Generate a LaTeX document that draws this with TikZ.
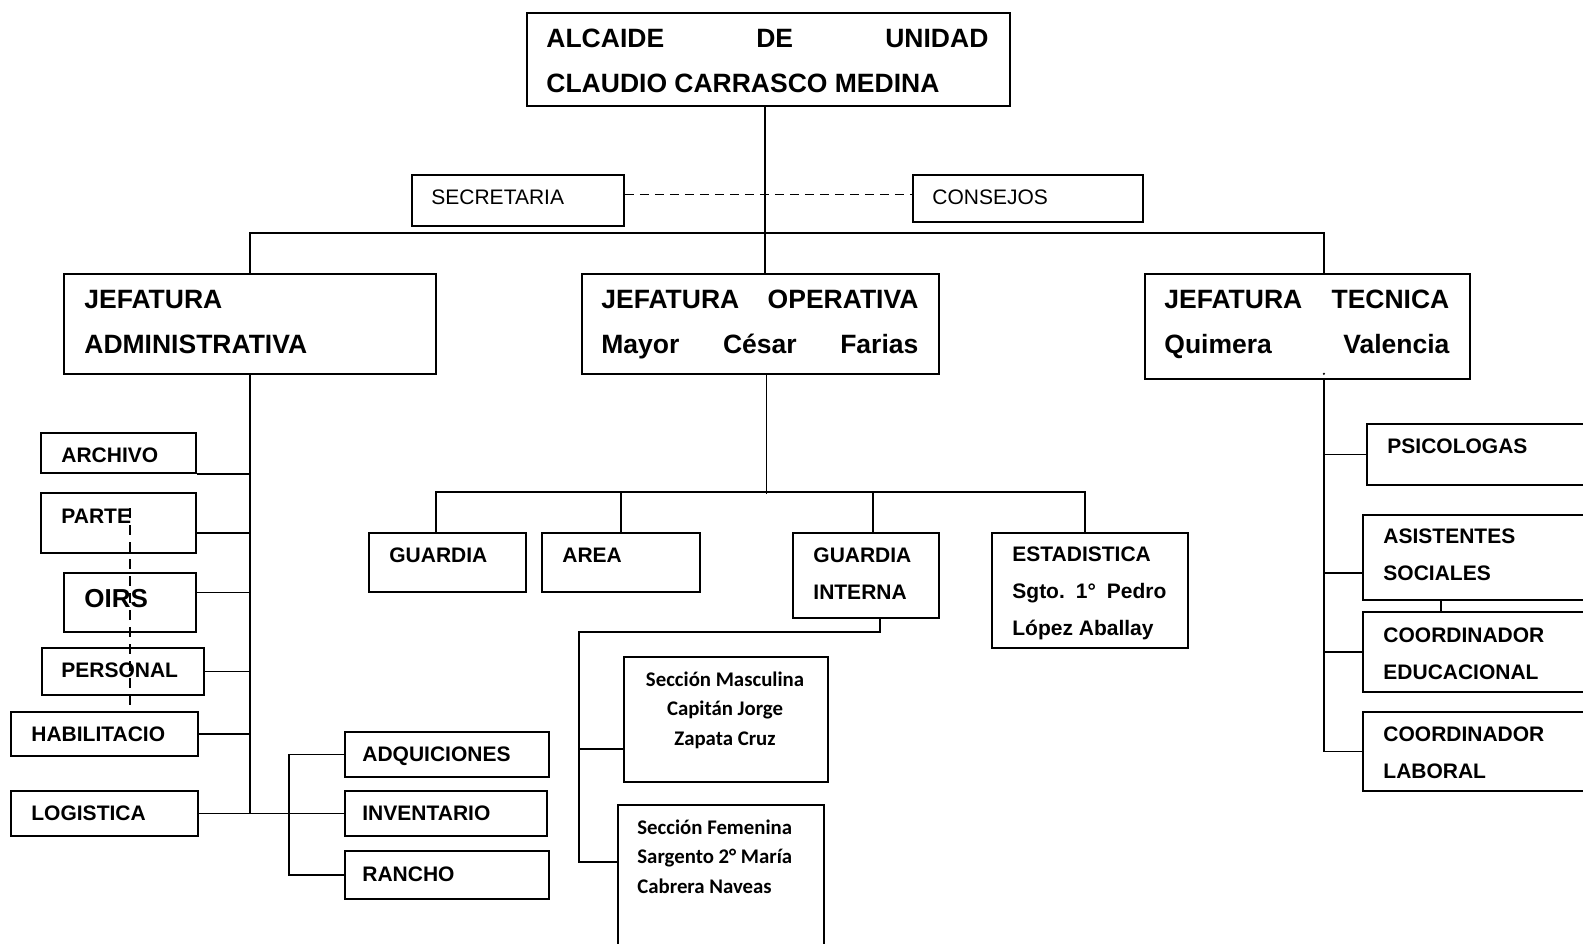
\documentclass[tikz,border=0pt]{standalone}
\usepackage{fontspec}
\setmainfont{Liberation Sans}
\newfontfamily\calibrina{Carlito}
\usetikzlibrary{calc}

\tikzset{
  caja/.style={draw, line width=0.9pt, fill=white, inner sep=0pt, anchor=north west},
  titulo/.style={anchor=base west, inner sep=0pt, align=left, font=\fontsize{13.25}{22.5}\selectfont\bfseries},
  etiq/.style={anchor=base west, inner sep=0pt, align=left, font=\fontsize{10.5}{18.5}\selectfont\bfseries},
  etiqn/.style={anchor=base west, inner sep=0pt, font=\fontsize{10.5}{12}\selectfont},
  seccion/.style={inner sep=0pt, font=\calibrina\bfseries\fontsize{10.4}{14.75}\selectfont},
  linea/.style={line width=0.9pt}
}

% box from corner (x1,y1) to corner (x2,y2), in pixels
\newcommand{\caja}[5]{\node[caja, minimum width={(#4-#2)*0.5pt}, minimum height={(#5-#3)*0.5pt}] (#1) at (#2,#3) {};}

\begin{document}
\begin{tikzpicture}[x=0.5pt, y=-0.5pt]
	\useasboundingbox (0,0) rectangle (1583,943);
	
	% top
	\caja{alcaide}{526}{12}{1009}{105}
	\caja{secretaria}{411}{174}{623}{225}
	\caja{consejos}{912}{174}{1142}{221}
	
	% jefaturas
	\caja{jefadm}{63}{273}{435}{373}
	\caja{jefop}{581}{273}{938}{373}
	\caja{jeftec}{1144}{273}{1469}{378}
	
	% administrativa
	\caja{archivo}{40}{432}{195}{472}
	\caja{parte}{40}{492}{195}{552}
	\caja{oirs}{63}{572}{195}{631}
	\caja{personal}{41}{647}{203}{694}
	\caja{habilitacio}{10}{711}{197}{755}
	\caja{logistica}{10}{790}{197}{835}
	\caja{adq}{344}{731}{548}{776}
	\caja{inventario}{344}{790}{546}{835}
	\caja{rancho}{344}{850}{548}{898}
	
	% operativa
	\caja{guardia}{368}{532}{525}{591}
	\caja{area}{541}{532}{699}{591}
	\caja{gint}{792}{532}{938}{617}
	\caja{estad}{991}{532}{1187}{647}
	\caja{masculina}{623}{656}{827}{781}
	\caja{femenina}{617}{804}{823}{960}
	
	% tecnica
	\caja{psico}{1366}{423}{1600}{484}
	\caja{asist}{1362}{514}{1600}{599}
	\caja{coordedu}{1362}{611}{1600}{691}
	\caja{coordlab}{1362}{711}{1600}{790}
	
	% lines from the top
	\coordinate (hub) at (765,233);
	\draw[line width=0.6pt] (alcaide.south -| hub) -- (hub);
	\draw[linea] (hub) -- (jefop.north -| hub);
	\draw[linea] (jefadm.north) |- (hub) -| ([xshift=8.25pt]jeftec.north);
	\draw[line width=0.85pt, dash pattern=on 4.5pt off 3pt] ([yshift=3pt]secretaria.east) -- ([yshift=3pt]secretaria.east -| consejos.west);
	
	% administrativa lines
	\draw[linea] (jefadm.south) -- (jefadm.south |- logistica.east);
	\draw[linea] (archivo.south east) -- (archivo.south east -| jefadm.south);
	\draw[linea] ([yshift=-5pt]parte.east) -- ([yshift=-5pt]parte.east -| jefadm.south);
	\draw[linea] ([yshift=5pt]oirs.east) -- ([yshift=5pt]oirs.east -| jefadm.south);
	\draw[linea] (personal.east) -- (personal.east -| jefadm.south);
	\draw[linea] (habilitacio.east) -- (habilitacio.east -| jefadm.south);
	\draw[linea] (logistica.east) -- (inventario.west);
	\draw[linea] (adq.west) -- ++(-27.5pt,0) |- (rancho.west);
	
	% operativa lines
	\draw[linea] ([xshift=3pt]jefop.south) -- ++(0,-59.5pt);
	\draw[linea] ([xshift=-5.75pt]guardia.north) -- ++(0,20pt) -| ([xshift=-2.5pt]estad.north);
	\draw[linea] (area.north) -- ++(0,20pt);
	\draw[linea] ([xshift=3.5pt]gint.north) -- ++(0,20pt);
	\coordinate (gbus) at (579,632);
	\draw[linea] ([xshift=7pt]gint.south) |- (gbus) |- ([yshift=10.5pt]femenina.west);
	\draw[linea] ([yshift=-14.75pt]masculina.west) -- ([yshift=-14.75pt]masculina.west -| gbus);
	
	% tecnica lines
	\coordinate (tecbus) at ([xshift=8.25pt]jeftec.south);
	\draw[linea] (tecbus) |- (coordlab.west);
	\draw[linea] (psico.west) -- (psico.west -| tecbus);
	\draw[linea] ([yshift=-7.75pt]asist.west) -- ([yshift=-7.75pt]asist.west -| tecbus);
	\draw[linea] (coordedu.west) -- (coordedu.west -| tecbus);
	
	% texts (base = last line)
	\node[titulo] (alcaideT) at (546,92) {\makebox[221pt][s]{ALCAIDE DE UNIDAD}\\CLAUDIO CARRASCO MEDINA};
	\node[etiqn] (secretariaT) at (431,204) {SECRETARIA};
	\node[etiqn] (consejosT) at (932,204) {CONSEJOS};
	\node[titulo] (jefadmT) at (84,353) {JEFATURA\\ADMINISTRATIVA};
	\node[titulo] (jefopT) at (601,353) {\makebox[158.5pt][s]{JEFATURA OPERATIVA}\\\makebox[158.5pt][s]{Mayor César Farias}};
	\node[titulo] (jeftecT) at (1164,353) {\makebox[142.5pt][s]{JEFATURA TECNICA}\\\makebox[142.5pt][s]{Quimera Valencia}};
	
	\node[etiq] (archivoT) at (61,462) {ARCHIVO};
	\node[etiq] (parteT) at (61,523) {PARTE};
	\node[etiq, font=\fontsize{13}{15}\selectfont\bfseries] (oirsT) at (84,607) {OIRS};
	\node[etiq] (personalT) at (61,677) {PERSONAL};
	\node[etiq] (habilitacioT) at (31,741) {HABILITACIO};
	\node[etiq] (logisticaT) at (31,820) {LOGISTICA};
	\node[etiq] (adqT) at (362,761) {ADQUICIONES};
	\node[etiq] (inventarioT) at (362,820) {INVENTARIO};
	\node[etiq] (ranchoT) at (362,881) {RANCHO};
	
	\node[etiq] (guardiaT) at (389,562) {GUARDIA};
	\node[etiq] (areaT) at (562,562) {AREA};
	\node[etiq] (gintT) at (813,599) {GUARDIA\\INTERNA};
	\node[etiq] (estadT) at (1012,635) {ESTADISTICA\\\makebox[77pt][s]{Sgto.\ \ 1°\ \ Pedro}\\López Aballay};
	\node[seccion, anchor=base, align=center] (masculinaT) at (725,745) {Sección Masculina\\Capitán Jorge\\Zapata Cruz};
	\node[seccion, anchor=base west, align=left] (femeninaT) at (637,893) {Sección Femenina\\Sargento 2° María\\Cabrera Naveas};
	
	\node[etiq] (psicoT) at (1387,453) {PSICOLOGAS};
	\node[etiq] (asistT) at (1383,580) {ASISTENTES\\SOCIALES};
	\node[etiq] (coordeduT) at (1383,679) {COORDINADOR\\EDUCACIONAL};
	\node[etiq] (coordlabT) at (1383,778) {COORDINADOR\\LABORAL};
	
	% stray marks
	\draw[line width=0.7pt, dash pattern=on 5pt off 3.5pt] (parte.north -| 130,0) ++(0,-8pt) -- (habilitacio.north -| 130,0);
	\draw[line width=0.7pt] (asist.south -| 1441,0) -- (coordedu.north -| 1441,0);
	\fill (tecbus) ++(0,3pt) circle (0.6pt);
\end{tikzpicture}
\end{document}
